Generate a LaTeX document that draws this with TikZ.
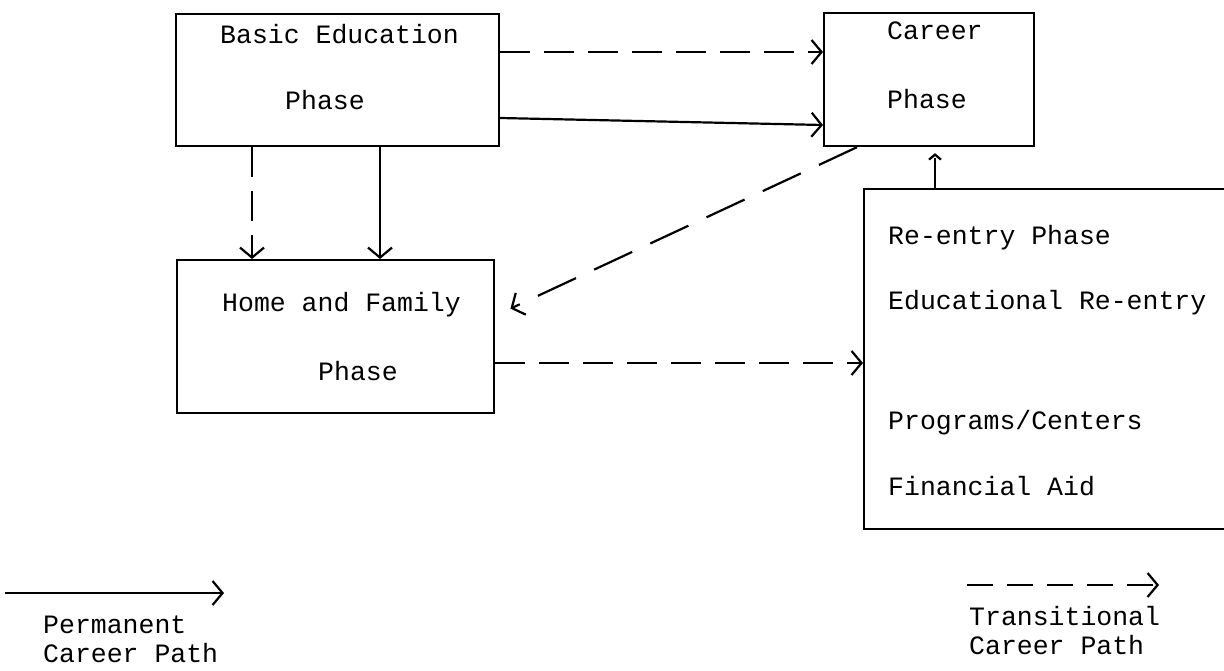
\documentclass[tikz,border=0pt]{standalone}
\usepackage{fontspec}
\setmonofont{Liberation Mono}
\usepackage{tikz}
\usetikzlibrary{arrows.meta,positioning}

\begin{document}
\begin{tikzpicture}[
    x=1pt, y=-1pt,
    phasebox/.style={rectangle, draw, line width=2.2pt, anchor=north west, inner sep=0pt},
    lbl/.style={anchor=base west, inner sep=0pt, font=\ttfamily\fontsize{26.5pt}{30pt}\selectfont},
    perm/.style={line width=2.2pt, -{Straight Barb[length=10pt, width=24pt]}},
    trans/.style={perm, dash pattern=on 30pt off 14pt}
]
    \useasboundingbox (0,0) rectangle (1224,671);

    % boxes
    \node[phasebox, minimum width=323pt, minimum height=132pt] (basic) at (175,13) {};
    \node[phasebox, minimum width=210pt, minimum height=133pt] (career) at (823,12) {};
    \node[phasebox, minimum width=317pt, minimum height=153pt] (home) at (176,259) {};
    \node[phasebox, minimum width=420pt, minimum height=340pt] (reentry) at (863,188) {};

    % texts
    \node[lbl] (basic1) at (220,44) {Basic Education};
    \node[lbl] (basic2) at (285,110) {Phase};
    \node[lbl] (career1) at (887,40) {Career};
    \node[lbl] (career2) at (887,109) {Phase};
    \node[lbl] (home1) at (222,312) {Home and Family};
    \node[lbl] (home2) at (318,380) {Phase};
    \node[lbl] (reentry1) at (888,244) {Re-entry Phase};
    \node[lbl] (reentry2) at (888,309) {Educational Re-entry};
    \node[lbl] (reentry3) at (888,429) {Programs/Centers};
    \node[lbl] (reentry4) at (888,495) {Financial Aid};

    % paths
    \draw[trans] ([yshift=-39pt]basic.north east) -- ([yshift=-40pt]career.north west);
    \draw[perm] ([yshift=-105pt]basic.north east) -- ([yshift=-113pt]career.north west);
    \draw[trans] ([xshift=77pt]basic.south west) -- ([xshift=76pt]home.north west);
    \draw[perm] ([xshift=205pt]basic.south west) -- ([xshift=204pt]home.north west);
    \draw[trans, dash pattern=on 42pt off 20pt, shorten >=8pt] ([xshift=34pt]career.south west) -- ([xshift=8pt, yshift=-53pt]home.north east);
    \draw[trans] ([yshift=-104pt]home.north east) -- ([yshift=-175pt]reentry.north west);
    \draw[trans, -{Straight Barb[length=5pt, width=12pt]}, shorten >=6pt] ([xshift=72pt]reentry.north west) -- ([xshift=112pt]career.south west);

    % legend
    \coordinate (permA) at (5,593);
    \coordinate (permB) at (224,593);
    \draw[perm] (permA) -- (permB);
    \node[lbl] (perm1) at (43,633) {Permanent};
    \node[lbl] (perm2) at (43,662) {Career Path};

    \coordinate (transA) at (967,585);
    \coordinate (transB) at (1159,585);
    \draw[trans, dash pattern=on 26pt off 14pt] (transA) -- (transB);
    \node[lbl] (trans1) at (969,625) {Transitional};
    \node[lbl] (trans2) at (969,654) {Career Path};
\end{tikzpicture}
\end{document}
